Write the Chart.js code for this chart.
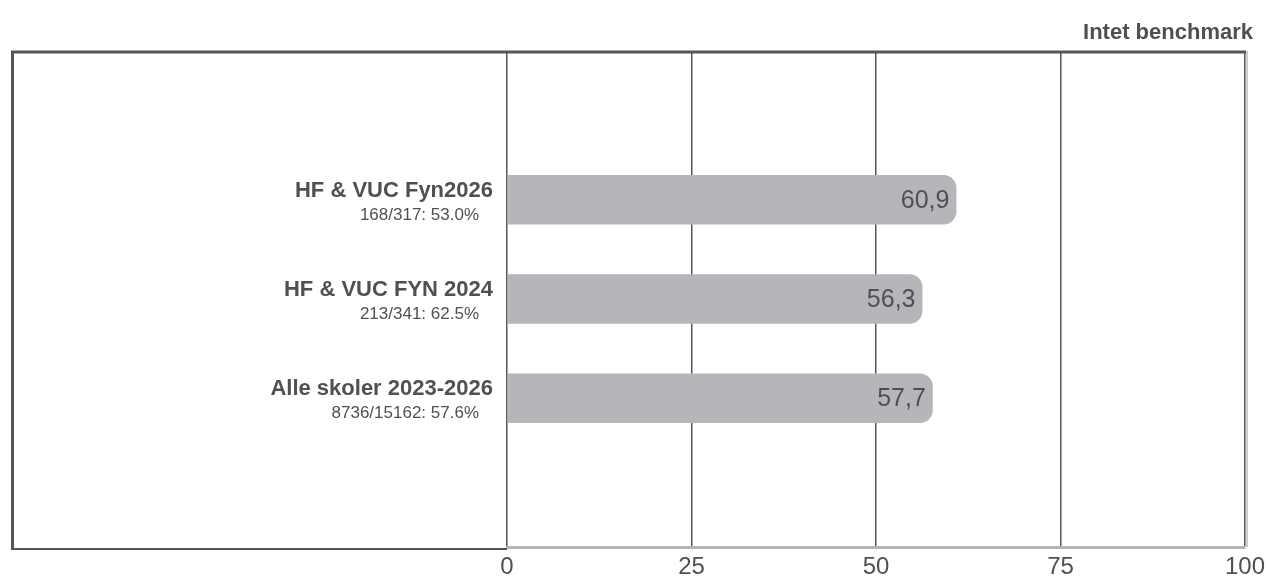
<!DOCTYPE html>
<html>
<head>
<meta charset="utf-8">
<script src="https://cdn.jsdelivr.net/npm/chart.js@4.4.1/dist/chart.umd.min.js"></script>
<style>
html,body{margin:0;padding:0;background:#fff;}
#wrap{position:relative;width:1266px;height:579px;}
</style>
</head>
<body>
<div id="wrap"><canvas id="c" width="1266" height="579"></canvas></div>
<script>
const categories = ['', 'HF & VUC Fyn2026', 'HF & VUC FYN 2024', 'Alle skoler 2023-2026', ''];
const subtitles = ['', '168/317: 53.0%', '213/341: 62.5%', '8736/15162: 57.6%', ''];
const values = [null, 60.9, 56.3, 57.7, null];
const tickValues = [0, 25, 50, 75, 100];
const chartTitle = 'Intet benchmark';

const TEXT = '#505050';
const FONT = '"Liberation Sans", Arial, Helvetica, sans-serif';

const decorPlugin = {
  id: 'decor',
  afterDraw(chart) {
    const ctx = chart.ctx;
    const ca = chart.chartArea;
    const y = chart.scales.y;
    const meta = chart.getDatasetMeta(0);
    ctx.save();
    // frame
    ctx.strokeStyle = '#555555';
    ctx.lineWidth = 3;
    ctx.beginPath();
    ctx.moveTo(11, ca.top + 1);
    ctx.lineTo(ca.right + 1, ca.top + 1);
    ctx.stroke();
    ctx.beginPath();
    ctx.moveTo(12.5, ca.top);
    ctx.lineTo(12.5, ca.bottom + 3);
    ctx.stroke();
    ctx.lineWidth = 2;
    ctx.beginPath();
    ctx.moveTo(11, ca.bottom + 2);
    ctx.lineTo(ca.left, ca.bottom + 2);
    ctx.stroke();
    ctx.strokeStyle = '#bbbbbb';
    ctx.lineWidth = 1.5;
    ctx.beginPath();
    ctx.moveTo(ca.right + 2, ca.top);
    ctx.lineTo(ca.right + 2, ca.bottom);
    ctx.stroke();

    // category labels
    ctx.fillStyle = TEXT;
    ctx.textAlign = 'right';
    ctx.textBaseline = 'alphabetic';
    categories.forEach((c, i) => {
      if (!c) return;
      const py = y.getPixelForValue(i);
      ctx.font = 'bold 22px ' + FONT;
      ctx.fillText(c, ca.left - 14, py - 3);
      ctx.font = '17px ' + FONT;
      ctx.fillText(subtitles[i], ca.left - 28, py + 20);
    });

    // value labels
    ctx.font = '25px ' + FONT;
    ctx.textBaseline = 'middle';
    meta.data.forEach((bar, i) => {
      if (values[i] == null) return;
      ctx.fillText(values[i].toFixed(1).replace('.', ','), bar.x - 7, bar.y + 1);
    });

    // title
    ctx.font = 'bold 22px ' + FONT;
    ctx.textBaseline = 'alphabetic';
    ctx.fillText(chartTitle, 1253, 39);
    ctx.restore();
  }
};

new Chart(document.getElementById('c'), {
  type: 'bar',
  data: {
    labels: categories,
    datasets: [{
      data: values,
      backgroundColor: '#b5b6ba',
      borderWidth: 0,
      borderRadius: 13,
      borderSkipped: 'start',
      categoryPercentage: 1,
      barPercentage: 0.5
    }]
  },
  options: {
    indexAxis: 'y',
    responsive: false,
    animation: false,
    devicePixelRatio: 1,
    layout: { padding: { left: 507, right: 21, top: 51, bottom: 0 } },
    plugins: { legend: { display: false }, tooltip: { enabled: false }, title: { display: false } },
    scales: {
      x: {
        min: 0, max: 100,
        afterBuildTicks(scale) { scale.ticks = tickValues.map(v => ({ value: v })); },
        afterFit(scale) { scale.height = 32; scale.paddingLeft = 0; scale.paddingRight = 0; },
        ticks: { color: TEXT, font: { family: FONT, size: 24 }, padding: 6, maxRotation: 0 },
        grid: { color: '#555555', lineWidth: 1.5, drawTicks: false },
        border: { color: '#b5b5b5', width: 3 }
      },
      y: {
        display: false
      }
    }
  },
  plugins: [decorPlugin]
});
</script>
</body>
</html>
